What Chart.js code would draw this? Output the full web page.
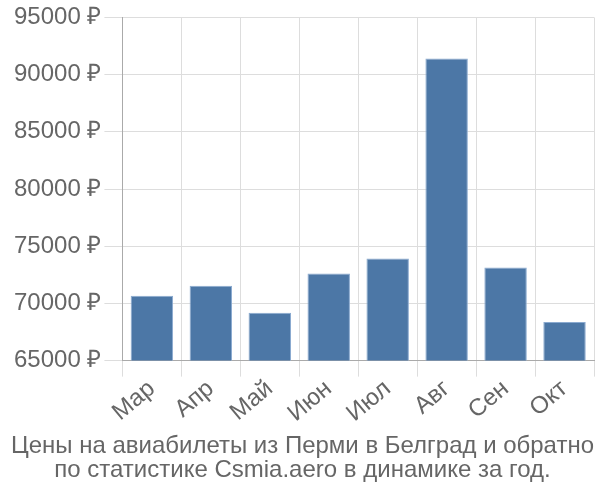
<!DOCTYPE html>
<html>
<head>
<meta charset="utf-8">
<script src="https://cdn.jsdelivr.net/npm/chart.js@4"></script>
<style>
  html, body { margin: 0; padding: 0; background: #fff; }
  #wrap { width: 600px; height: 500px; }
</style>
</head>
<body>
<div id="wrap"><canvas id="priceChart"></canvas></div>
<script>
const months = ['Мар', 'Апр', 'Май', 'Июн', 'Июл', 'Авг', 'Сен', 'Окт'];
const prices = [70670, 71540, 69190, 72620, 73930, 91400, 73140, 68370];
const titleLines = ['Цены на авиабилеты из Перми в Белград и обратно', 'по статистике Csmia.aero в динамике за год.'];

Chart.defaults.font.family = '"Liberation Sans", Arial, sans-serif';
Chart.defaults.color = '#666';

const ctx = document.getElementById('priceChart').getContext('2d');
new Chart(ctx, {
  type: 'bar',
  data: {
    labels: months,
    datasets: [{
      data: prices,
      backgroundColor: '#4c77a6',
      borderColor: '#8aaad0',
      borderWidth: 1
    }]
  },
  options: {
    responsive: true,
    maintainAspectRatio: false,
    animation: false,
    layout: { padding: { right: 6, top: -3, left: 11 } },
    plugins: {
      legend: { display: false },
      tooltip: { enabled: false },
      title: {
        display: true,
        position: 'bottom',
        text: titleLines,
        font: { size: 24, weight: 'normal', lineHeight: 1.0 },
        color: '#666',
        padding: { top: 8, bottom: 18 }
      }
    },
    scales: {
      x: {
        grid: { color: '#ddd', tickLength: 16, offset: true },
        border: { color: '#aaa' },
        ticks: { font: { size: 24 }, maxRotation: 40, minRotation: 40, autoSkip: false, padding: -2 }
      },
      y: {
        min: 65000,
        max: 95000,
        grid: { color: '#ddd', tickLength: 18 },
        border: { color: '#aaa' },
        ticks: {
          stepSize: 5000,
          font: { size: 24 },
          callback: v => v + ' ₽'
        }
      }
    }
  }
});
</script>
</body>
</html>
